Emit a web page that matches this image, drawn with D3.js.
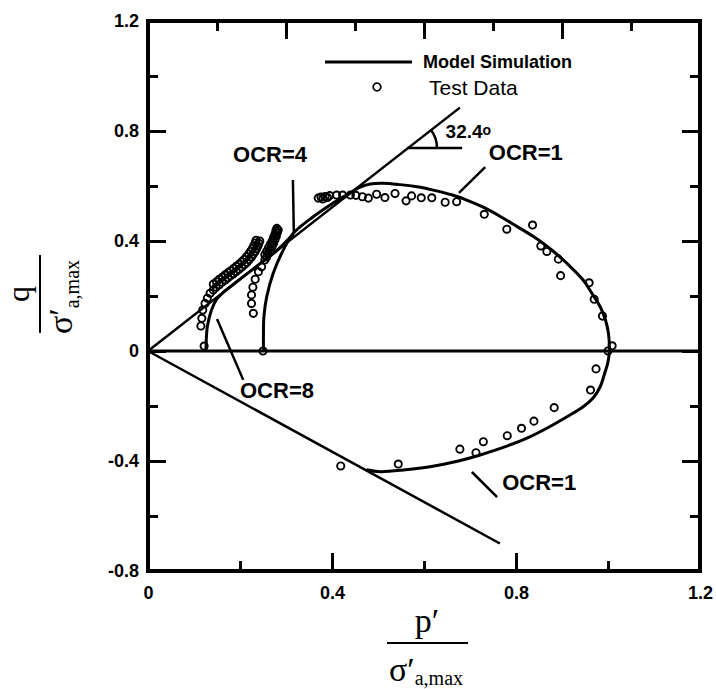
<!DOCTYPE html>
<html>
<head>
<meta charset="utf-8">
<script src="https://cdn.jsdelivr.net/npm/d3@7"></script>
<style>
  body { margin: 0; background: #fff; }
  text { font-family: "Liberation Sans", Arial, sans-serif; fill: #000; }
  .serif { font-family: "Liberation Serif", "Times New Roman", serif; }
</style>
</head>
<body>
<div id="chart"></div>
<script>
// tick values
var xMajorTicks = [0, 0.4, 0.8, 1.2];
var xMinorTicks = [0.2, 0.6, 1.0];
var topMajorTicks = [0.3, 0.6, 0.9];
var topMinorTicks = [0.15, 0.45, 0.75, 1.05];
var yMajorTicks = [-0.8, -0.4, 0, 0.4, 0.8, 1.2];
var yMinorTicks = [-0.6, -0.2, 0.2, 0.6, 1.0];

// failure lines (compression M and extension)
var failUpP = [0, 0.678];
var failUpQ = [0, 0.885];
var failLowP = [0, 0.765];
var failLowQ = [0, -0.700];

// model simulation curves
var ocr1SimP = [0.44, 0.46, 0.483, 0.51, 0.548, 0.585, 0.62, 0.66, 0.693, 0.73, 0.765, 0.80, 0.838, 0.868, 0.89, 0.91, 0.946, 0.965, 0.983, 0.995, 1.001, 1.003, 1.0, 0.993, 0.983, 0.968, 0.946, 0.91, 0.87, 0.83, 0.78, 0.722, 0.67, 0.613, 0.56, 0.504, 0.475];
var ocr1SimQ = [0.575, 0.595, 0.607, 0.61, 0.605, 0.597, 0.585, 0.568, 0.549, 0.522, 0.49, 0.455, 0.416, 0.38, 0.35, 0.32, 0.258, 0.21, 0.161, 0.11, 0.064, 0.004, -0.04, -0.08, -0.13, -0.17, -0.203, -0.24, -0.278, -0.312, -0.346, -0.378, -0.402, -0.421, -0.432, -0.439, -0.432];
var ocr4SimP = [0.251, 0.251, 0.252, 0.258, 0.272, 0.294, 0.316, 0.359, 0.396, 0.42, 0.44];
var ocr4SimQ = [0.0, 0.06, 0.125, 0.197, 0.282, 0.367, 0.428, 0.488, 0.531, 0.556, 0.575];
var ocr8SimP = [0.126, 0.127, 0.129, 0.138, 0.15, 0.165, 0.19, 0.22, 0.25, 0.28, 0.316];
var ocr8SimQ = [0.0, 0.05, 0.089, 0.149, 0.19, 0.215, 0.248, 0.287, 0.326, 0.365, 0.425];

// test data
var ocr1TestP = [0.370, 0.376, 0.380, 0.385, 0.390, 0.395, 0.41, 0.423, 0.44, 0.452, 0.466, 0.479, 0.497, 0.515, 0.537, 0.561, 0.573, 0.594, 0.617, 0.646, 0.671, 0.731, 0.78, 0.836, 0.854, 0.867, 0.892, 0.897, 0.959, 0.97, 0.988, 1.0, 1.009, 0.974, 0.962, 0.883, 0.839, 0.812, 0.781, 0.729, 0.713, 0.678, 0.544, 0.419];
var ocr1TestQ = [0.556, 0.56, 0.553, 0.562, 0.558, 0.565, 0.567, 0.567, 0.567, 0.566, 0.561, 0.556, 0.57, 0.558, 0.573, 0.546, 0.564, 0.557, 0.557, 0.541, 0.543, 0.497, 0.443, 0.458, 0.382, 0.362, 0.334, 0.274, 0.248, 0.188, 0.127, 0.0, 0.019, -0.065, -0.142, -0.206, -0.255, -0.281, -0.308, -0.33, -0.37, -0.357, -0.411, -0.418];
var ocr4TestP = [0.25, 0.229, 0.225, 0.225, 0.228, 0.233, 0.24, 0.247, 0.254, 0.258, 0.262, 0.266, 0.27, 0.273, 0.276, 0.279, 0.281, 0.283,
                 0.254, 0.258, 0.262, 0.266, 0.270, 0.273, 0.276, 0.278, 0.280];
var ocr4TestQ = [0.0, 0.137, 0.173, 0.204, 0.232, 0.261, 0.288, 0.306, 0.331, 0.342, 0.355, 0.368, 0.38, 0.392, 0.405, 0.417, 0.43, 0.44,
                 0.350, 0.363, 0.376, 0.388, 0.400, 0.413, 0.425, 0.437, 0.446];
var ocr8TestP = [0.122, 0.115, 0.117, 0.119, 0.124, 0.129, 0.135, 0.142, 0.148, 0.155, 0.161, 0.168, 0.174, 0.18, 0.186, 0.192, 0.198, 0.204, 0.21, 0.215, 0.22, 0.225, 0.229, 0.233, 0.236, 0.239, 0.241, 0.243,
                 0.142, 0.149, 0.155, 0.162, 0.168, 0.174, 0.180, 0.186, 0.192, 0.198, 0.204, 0.209, 0.214, 0.219, 0.223, 0.227, 0.230, 0.233, 0.235];
var ocr8TestQ = [0.018, 0.091, 0.119, 0.149, 0.173, 0.192, 0.21, 0.222, 0.232, 0.241, 0.25, 0.258, 0.266, 0.274, 0.281, 0.289, 0.297, 0.305, 0.314, 0.322, 0.332, 0.342, 0.352, 0.362, 0.372, 0.382, 0.392, 0.40,
                 0.243, 0.252, 0.261, 0.269, 0.277, 0.285, 0.292, 0.300, 0.308, 0.316, 0.325, 0.333, 0.343, 0.353, 0.363, 0.373, 0.383, 0.393, 0.403];

// svg
var svgWidth = 716;
var svgHeight = 689;
var margin = {top: 21, right: 16, bottom: 118, left: 148};

var svg = d3.select("#chart")
  .append("svg")
  .attr("width", svgWidth)
  .attr("height", svgHeight);

var x = d3.scaleLinear().domain([0, 1.2]).range([margin.left, svgWidth - margin.right]);
var y = d3.scaleLinear().domain([-0.8, 1.2]).range([svgHeight - margin.bottom, margin.top]);

var fmt = function(d) { return d === 0 ? "0" : (d < 0 ? "-" : "") + Math.abs(d).toFixed(1); };

// axes: ticks point inward
function styleAxis(g) {
  g.select(".domain").remove();
  g.selectAll(".tick line").attr("stroke", "#000").attr("stroke-width", 3);
  g.selectAll(".tick text")
    .style("font-family", "'Liberation Sans', Arial, sans-serif")
    .style("font-size", "18px")
    .style("font-weight", "bold");
}

svg.append("g").attr("transform", `translate(0, ${y(-0.8)})`)
  .call(d3.axisBottom(x).tickValues(xMajorTicks).tickSize(-18).tickPadding(15).tickFormat(fmt))
  .call(styleAxis);
svg.append("g").attr("transform", `translate(0, ${y(-0.8)})`)
  .call(d3.axisBottom(x).tickValues(xMinorTicks).tickSize(-10).tickFormat(""))
  .call(styleAxis);
svg.append("g").attr("transform", `translate(0, ${y(1.2)})`)
  .call(d3.axisTop(x).tickValues(topMajorTicks).tickSize(-18).tickFormat(""))
  .call(styleAxis);
svg.append("g").attr("transform", `translate(0, ${y(1.2)})`)
  .call(d3.axisTop(x).tickValues(topMinorTicks).tickSize(-10).tickFormat(""))
  .call(styleAxis);
svg.append("g").attr("transform", `translate(${x(0)}, 0)`)
  .call(d3.axisLeft(y).tickValues(yMajorTicks).tickSize(-18).tickPadding(9).tickFormat(fmt))
  .call(styleAxis);
svg.append("g").attr("transform", `translate(${x(0)}, 0)`)
  .call(d3.axisLeft(y).tickValues(yMinorTicks).tickSize(-10).tickFormat(""))
  .call(styleAxis);
svg.append("g").attr("transform", `translate(${x(1.2)}, 0)`)
  .call(d3.axisRight(y).tickValues(yMajorTicks).tickSize(-18).tickFormat(""))
  .call(styleAxis);
svg.append("g").attr("transform", `translate(${x(1.2)}, 0)`)
  .call(d3.axisRight(y).tickValues(yMinorTicks).tickSize(-10).tickFormat(""))
  .call(styleAxis);

// frame
svg.append("rect")
  .attr("x", x(0)).attr("y", y(1.2))
  .attr("width", x(1.2) - x(0)).attr("height", y(-0.8) - y(1.2))
  .attr("fill", "none").attr("stroke", "#000").attr("stroke-width", 4);

// q = 0 line
svg.append("line")
  .attr("x1", x(0)).attr("x2", x(1.2))
  .attr("y1", y(0)).attr("y2", y(0))
  .attr("stroke", "#000").attr("stroke-width", 3);

var straight = d3.line().x(d => x(d[0])).y(d => y(d[1]));
var smooth = d3.line().x(d => x(d[0])).y(d => y(d[1])).curve(d3.curveCatmullRom.alpha(0.5));

svg.append("path").attr("d", straight(d3.zip(failUpP, failUpQ)))
  .attr("fill", "none").attr("stroke", "#000").attr("stroke-width", 2.5);
svg.append("path").attr("d", straight(d3.zip(failLowP, failLowQ)))
  .attr("fill", "none").attr("stroke", "#000").attr("stroke-width", 2.5);

[[ocr1SimP, ocr1SimQ], [ocr4SimP, ocr4SimQ], [ocr8SimP, ocr8SimQ]].forEach(function(s) {
  svg.append("path").attr("d", smooth(d3.zip(s[0], s[1])))
    .attr("fill", "none").attr("stroke", "#000").attr("stroke-width", 3);
});

// test data circles
var testData = d3.zip(ocr1TestP, ocr1TestQ)
  .concat(d3.zip(ocr4TestP, ocr4TestQ))
  .concat(d3.zip(ocr8TestP, ocr8TestQ));
svg.append("g").selectAll("circle")
  .data(testData)
  .enter()
  .append("circle")
  .attr("cx", d => x(d[0]))
  .attr("cy", d => y(d[1]))
  .attr("r", 3.6)
  .attr("fill", "none")
  .attr("stroke", "#000")
  .attr("stroke-width", 1.9);

// OCR labels with pointer lines (data coords)
var labels = [
  {text: "OCR=4", p: 0.185, q: 0.687, line: [[0.315, 0.622], [0.317, 0.433]]},
  {text: "OCR=1", p: 0.741, q: 0.695, line: [[0.733, 0.669], [0.676, 0.575]]},
  {text: "OCR=8", p: 0.200, q: -0.171, line: [[0.207, -0.105], [0.150, 0.116]]},
  {text: "OCR=1", p: 0.770, q: -0.505, line: [[0.704, -0.440], [0.759, -0.531]]}
];
labels.forEach(function(l) {
  svg.append("path").attr("d", straight(l.line))
    .attr("stroke", "#000").attr("stroke-width", 2.5);
  svg.append("text")
    .attr("x", x(l.p)).attr("y", y(l.q))
    .style("font-size", "22px").style("font-weight", "bold")
    .text(l.text);
});

// friction angle marker
var angleQ = 0.738, angleP0 = 0.563, angleP1 = 0.683;
svg.append("line")
  .attr("x1", x(angleP0)).attr("x2", x(angleP1))
  .attr("y1", y(angleQ)).attr("y2", y(angleQ))
  .attr("stroke", "#000").attr("stroke-width", 2.5);
var slope = Math.atan2(y(0) - y(failUpQ[1]), x(failUpP[1]) - x(0));
var arc = d3.path();
arc.moveTo(x(angleP0) + 30, y(angleQ));
arc.arc(x(angleP0), y(angleQ), 30, 0, -slope, true);
svg.append("path").attr("d", arc.toString())
  .attr("fill", "none").attr("stroke", "#000").attr("stroke-width", 2.5);
var ang = svg.append("text")
  .attr("x", x(0.647)).attr("y", y(0.775))
  .style("font-size", "19px").style("font-weight", "bold");
ang.append("tspan").text("32.4");
ang.append("tspan").attr("dy", -3).style("font-size", "14px").text("o");

// legend
var legend = svg.append("g");
legend.append("line")
  .attr("x1", 325).attr("x2", 412).attr("y1", 62).attr("y2", 62)
  .attr("stroke", "#000").attr("stroke-width", 3);
legend.append("text").attr("x", 423).attr("y", 68)
  .style("font-size", "18px").style("font-weight", "bold")
  .text("Model Simulation");
legend.append("circle").attr("cx", 377).attr("cy", 87).attr("r", 3.8)
  .attr("fill", "none").attr("stroke", "#000").attr("stroke-width", 1.8);
legend.append("text").attr("x", 429).attr("y", 95)
  .style("font-size", "21px")
  .text("Test Data");

// y axis title: q / sigma'_a,max
var yTitle = svg.append("g").attr("transform", "translate(40, 294) rotate(-90)");
yTitle.append("text").attr("class", "serif")
  .attr("x", 0).attr("y", -11).attr("text-anchor", "middle")
  .style("font-size", "32px").text("q");
yTitle.append("line").attr("x1", -39).attr("x2", 39).attr("y1", 0).attr("y2", 0)
  .attr("stroke", "#000").attr("stroke-width", 2);
var yDen = yTitle.append("text").attr("class", "serif")
  .attr("x", -3).attr("y", 32).attr("text-anchor", "middle")
  .style("font-size", "34px");
yDen.append("tspan").text("σ′");
yDen.append("tspan").attr("dy", 7).style("font-size", "20px").text("a,max");

// x axis title: p' / sigma'_a,max
var xTitle = svg.append("g").attr("transform", "translate(427, 643)");
xTitle.append("text").attr("class", "serif")
  .attr("x", 0).attr("y", -11).attr("text-anchor", "middle")
  .style("font-size", "34px").text("p′");
xTitle.append("line").attr("x1", -40).attr("x2", 41).attr("y1", 0).attr("y2", 0)
  .attr("stroke", "#000").attr("stroke-width", 2);
var xDen = xTitle.append("text").attr("class", "serif")
  .attr("x", -1).attr("y", 38).attr("text-anchor", "middle")
  .style("font-size", "34px");
xDen.append("tspan").text("σ′");
xDen.append("tspan").attr("dy", 4).style("font-size", "20px").text("a,max");
</script>
</body>
</html>
